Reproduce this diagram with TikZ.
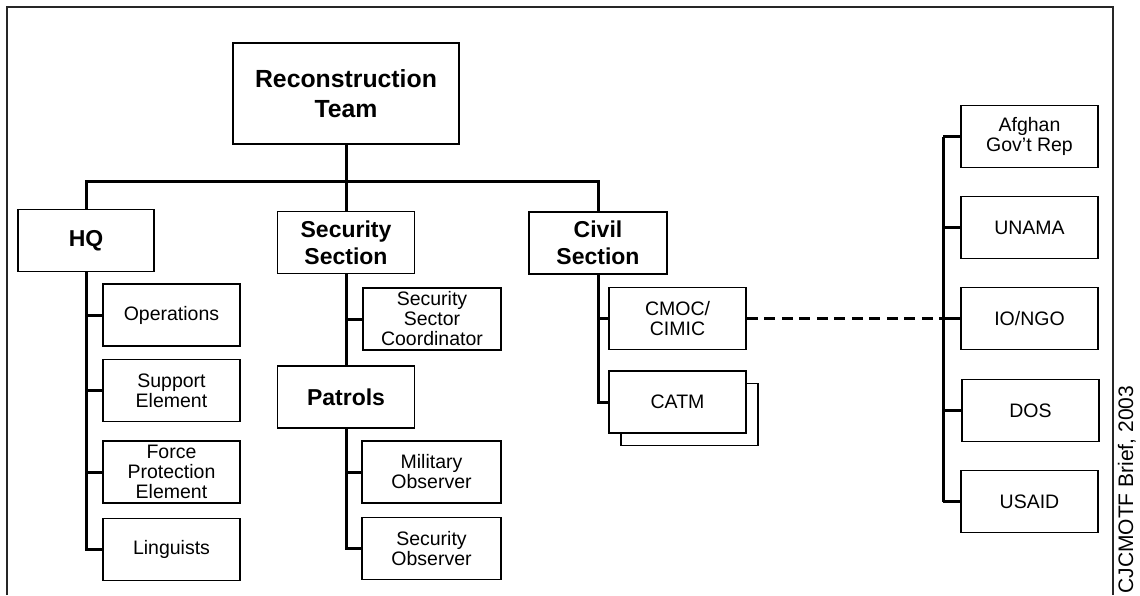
\documentclass[tikz,border=0pt]{standalone}
\usepackage{fontspec}
\setmainfont{Liberation Sans}
\usetikzlibrary{positioning}
\usepackage{xcolor}
\pgfkeys{tikz/head/.style={font=\fontsize{23}{27}\selectfont\bfseries}}
\pgfkeys{tikz/unit/.style={font=\fontsize{19.5}{20}\selectfont}}

\begin{document}
\begin{tikzpicture}[x=1pt,y=-1pt,
  every node/.style = {shape=rectangle, draw, line width=1.8pt,
    fill=white, align=center, inner sep=0pt,
    minimum width=137pt, minimum height=62pt},
  link/.style={draw, line width=3pt},
  frame/.style={draw=black!85, line width=2pt}
  ]
  \useasboundingbox (0,0) rectangle (1140,595);
  \draw[frame] (7,595) -- (7,7) -- (1113,7) -- (1113,595);

  % top level
  \node[head, font=\fontsize{24.8}{30}\selectfont\bfseries,
    minimum width=226pt, minimum height=101pt] (root) at (346,93.5) {Reconstruction\\Team};
  \node[head, minimum width=136pt] (hq) at (86,240.5) {HQ};
  \node[head] (sec) at (346,242.5) {Security\\Section};
  \node[head, minimum width=138pt] (civ) at (598,243) {Civil\\Section};
  \coordinate (bus) at (346,181);

  % HQ
  \node[unit] (ops) at (171.5,315) {Operations};
  \node[unit] (sup) at (171.5,390.5) {Support\\Element};
  \node[unit] (fpe) at (171.5,472) {Force\\Protection\\Element};
  \node[unit] (lin) at (171.5,549.5) {Linguists};

  % security section
  \node[unit, minimum width=138pt] (ssc) at (432,319) {Security\\Sector\\Coordinator};
  \node[head] (pat) at (346,397) {Patrols};
  \node[unit, minimum width=139pt] (mil) at (431.5,472) {Military\\Observer};
  \node[unit, minimum width=139pt] (sob) at (431.5,548.5) {Security\\Observer};

  % civil section
  \node[unit] (cmoc) at (677.5,318.5) {CMOC/\\CIMIC};
  \node[unit] (catmback) at (689.5,414.5) {};
  \node[unit] (catm) at (677.5,402) {CATM};

  % partners
  \node[unit] (afg) at (1029.5,136.5) {Afghan\\Gov't Rep};
  \node[unit] (unama) at (1029.5,227.5) {UNAMA};
  \node[unit] (iongo) at (1029.5,318.5) {IO/NGO};
  \node[unit] (dos) at (1030.5,410.5) {DOS};
  \node[unit] (usaid) at (1029.5,501.5) {USAID};
  \coordinate (rbar) at (943,0);

  \node[draw=none, fill=none, minimum width=0pt, minimum height=0pt,
    font=\fontsize{21}{21}\selectfont, rotate=90, anchor=base east]
    (src) at (1133,385) {CJCMOTF Brief, 2003};

  % lines
  \draw[link] (hq.north) |- (bus) -| (civ.north);
  \draw[link] (root.south) -- (sec.north);
  \draw[link] (hq.south) |- (lin.west);
  \foreach \n in {ops,sup,fpe}
    \draw[link] (hq.south |- \n.west) -- (\n.west);
  \draw[link] (sec.south) -- (pat.north);
  \draw[link] (sec.south |- ssc.west) -- (ssc.west);
  \draw[link] (pat.south) |- (sob.west);
  \draw[link] (pat.south |- mil.west) -- (mil.west);
  \draw[link] (civ.south) |- (catm.west);
  \draw[link] (civ.south |- cmoc.west) -- (cmoc.west);
  \draw[link] (rbar |- afg.west) -- (rbar |- usaid.west);
  \foreach \n in {afg,unama,iongo,dos,usaid}
    \draw[link] (rbar |- \n.west) -- (\n.west);
  \draw[link, dash pattern=on 11pt off 6.5pt] (cmoc.east) -- (rbar |- cmoc.east);
\end{tikzpicture}
\end{document}
